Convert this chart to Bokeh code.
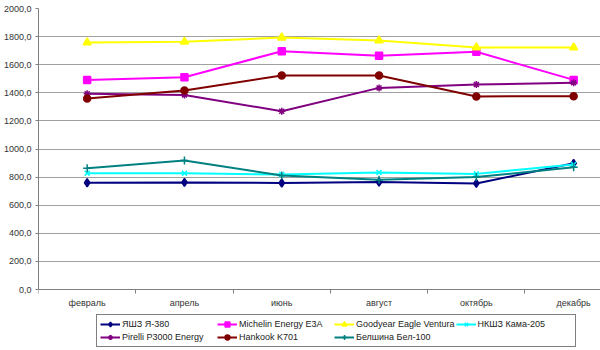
from bokeh.plotting import figure
from bokeh.models import Range1d, FixedTicker, Legend, LegendItem, LinearAxis
from bokeh.embed import file_html
from bokeh.resources import INLINE

months = ["февраль", "апрель", "июнь", "август", "октябрь", "декабрь"]
y_ticks = [0, 200, 400, 600, 800, 1000, 1200, 1400, 1600, 1800, 2000]

yashz = [760, 762, 758, 765, 755, 898]
michelin = [1492, 1511, 1696, 1663, 1692, 1492]
goodyear = [1758, 1763, 1793, 1772, 1722, 1722]
nkshz = [828, 828, 818, 833, 823, 890]
pirelli = [1393, 1385, 1269, 1435, 1459, 1471]
hankook = [1359, 1416, 1523, 1523, 1374, 1376]
belshina = [863, 918, 811, 781, 800, 870]

names = ["ЯШЗ Я-380", "Michelin Energy E3A", "Goodyear Eagle Ventura", "НКШЗ Кама-205",
         "Pirelli P3000 Energy", "Hankook K701", "Белшина Бел-100"]
series = [yashz, michelin, goodyear, nkshz, pirelli, hankook, belshina]
colors = ["#000080", "#ff00ff", "#ffff00", "#00ffff", "#800080", "#800000", "#008080"]
markers = ["diamond", "square", "triangle", "x", "asterisk", "circle", "cross"]
msizes = [8, 7, 8, 7, 7, 7, 8]

xs = [i + 0.5 for i in range(len(months))]

p = figure(width=600, height=350, output_backend="svg", toolbar_location=None,
           x_range=Range1d(0, 5.776), y_range=Range1d(-434, 2000),
           min_border_left=34, min_border_right=0, min_border_top=8, min_border_bottom=0,
           x_axis_location=None)
p.outline_line_color = None
p.background_fill_color = "white"

xaxis = LinearAxis(fixed_location=0)
p.add_layout(xaxis, "below")

# axes
p.yaxis.ticker = FixedTicker(ticks=y_ticks)
p.yaxis.bounds = (0, 2000)
p.yaxis.major_label_overrides = {v: f"{v},0" for v in y_ticks}
xaxis.ticker = FixedTicker(ticks=xs, minor_ticks=list(range(0, 6)))
xaxis.major_label_overrides = {x: m for x, m in zip(xs, months)}
for ax in (xaxis, p.yaxis[0]):
    ax.axis_line_color = "#808080"
    ax.major_label_text_font = "Liberation Sans"
    ax.major_label_text_font_size = "9px"
    ax.major_label_text_color = "#333333"
    ax.minor_tick_line_color = "#808080"
xaxis.major_tick_line_color = None
xaxis.major_tick_out = 4
xaxis.minor_tick_out = 4
xaxis.minor_tick_in = 0
xaxis.major_label_standoff = 4
p.yaxis.major_tick_line_color = "#808080"
p.yaxis.major_tick_out = 3
p.yaxis.major_tick_in = 0
p.yaxis.minor_tick_line_color = None
p.yaxis.major_label_standoff = 4

p.xgrid.grid_line_color = None
p.ygrid.grid_line_color = "#a0a0a0"
p.ygrid.ticker = FixedTicker(ticks=y_ticks)

items = []
for name, ys, c, m, s in zip(names, series, colors, markers, msizes):
    r1 = p.line(xs, ys, line_color=c, line_width=2)
    r2 = p.scatter(xs, ys, marker=m, size=s, fill_color=c, line_color=c, line_width=1.5)
    items.append(LegendItem(label=name, renderers=[r1, r2]))

order = [0, 4, 1, 5, 2, 6, 3]
legend = Legend(items=[items[i] for i in order], ncols=4, location=(58, 3),
                label_text_font="Liberation Sans", label_text_font_size="9px",
                label_text_color="#222222",
                glyph_width=20, glyph_height=12, label_height=12, label_width=94,
                label_standoff=2, spacing=1, padding=3, margin=0,
                border_line_color="black", border_line_width=1,
                background_fill_color="white", background_fill_alpha=1.0)
p.add_layout(legend, "center")

open("out.html", "w").write(file_html(p, INLINE))
